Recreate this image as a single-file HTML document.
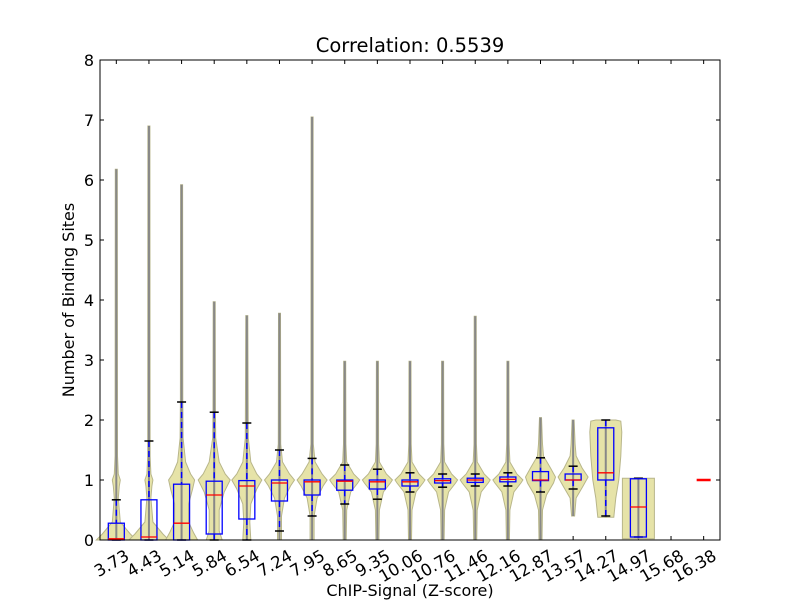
<!DOCTYPE html>
<html><head><meta charset="utf-8"><style>
html,body{margin:0;padding:0;background:#fff;}
svg{display:block;font-family:"DejaVu Sans","Liberation Sans",sans-serif;}
</style></head><body>
<svg id="s" width="800" height="600" xmlns="http://www.w3.org/2000/svg">
<rect width="800" height="600" fill="#fff"/>
<text x="410" y="52" font-size="19.5" text-anchor="middle">Correlation: 0.5539</text>
<text x="410" y="596" font-size="16" text-anchor="middle">ChIP-Signal (Z-score)</text>
<text x="74" y="300" font-size="16" text-anchor="middle" transform="rotate(-90 74 300)">Number of Binding Sites</text>
<g id="g"></g>
<rect x="100" y="60" width="620" height="480" fill="none" stroke="#000" stroke-width="1"/>
</svg>
<script>
var g=document.getElementById('g');var out='';
function X(i){return 100+(i-0.5)*32.63;}
function Y(v){return 540-60*v;}
for(var k=0;k<=8;k++){var y=Y(k);out+='<line x1="100" x2="104" y1="'+y+'" y2="'+y+'" stroke="#000"/><line x1="716" x2="720" y1="'+y+'" y2="'+y+'" stroke="#000"/>';
out+='<text x="94" y="'+(y+6)+'" font-size="16" text-anchor="end">'+k+'</text>';}
var labs=['3.73','4.43','5.14','5.84','6.54','7.24','7.95','8.65','9.35','10.06','10.76','11.46','12.16','12.87','13.57','14.27','14.97','15.68','16.38'];
labs.forEach(function(l,i){var x=X(i+1);out+='<line x1="'+x+'" x2="'+x+'" y1="540" y2="536" stroke="#000"/><line x1="'+x+'" x2="'+x+'" y1="60" y2="64" stroke="#000"/>';
var tx=x+14,ty=559;
out+='<text x="'+tx+'" y="'+ty+'" font-size="16.5" text-anchor="end" transform="rotate(-30 '+tx+' '+ty+')">'+l+'</text>';});
var D=[
[6.18,[[0,20],[0.1,14],[0.3,4],[0.7,2],[0.9,3],[1,4],[1.1,2],[1.4,1.2]],0.67,0.28,0.02,0,0],
[6.9,[[0,20],[0.1,14],[0.3,4],[0.7,2],[0.9,3],[1,4],[1.1,2],[1.4,1.2]],1.65,0.67,0.05,0,0],
[5.92,[[0,16],[0.12,12],[0.3,7],[0.6,7],[0.85,11],[1,13],[1.1,9],[1.3,4],[1.7,1.5],[2.3,1.2]],2.3,0.93,0.28,0,0],
[3.97,[[0,8],[0.15,5],[0.5,5],[0.8,10],[1,16],[1.1,11],[1.3,5],[1.7,1.5],[2.2,1.2]],2.13,0.98,0.75,0.1,0],
[3.74,[[0,4],[0.3,3],[0.6,4],[0.85,10],[1,15],[1.1,10],[1.3,4],[1.7,1.5]],1.95,0.99,0.9,0.35,0],
[3.78,[[0,2],[0.4,2],[0.7,5],[0.9,11],[1,15],[1.1,10],[1.3,3],[1.6,1.2]],1.5,1,0.95,0.65,0.15],
[7.05,[[0,2],[0.4,2],[0.7,5],[0.9,11],[1,15],[1.1,10],[1.3,3],[1.6,1.2]],1.36,1,0.97,0.75,0.4],
[2.98,[[0,1.5],[0.5,2],[0.8,6],[0.95,13],[1,15],[1.1,9],[1.3,2],[1.6,1.2]],1.25,1,0.98,0.83,0.6],
[2.98,[[0,1.5],[0.5,2],[0.8,6],[0.95,13],[1,15],[1.1,9],[1.3,2],[1.6,1.2]],1.18,1,0.97,0.85,0.68],
[2.98,[[0,1.5],[0.5,2],[0.8,6],[0.95,13],[1,15],[1.1,9],[1.3,2],[1.6,1.2]],1.12,1,0.97,0.9,0.8],
[2.98,[[0,1.5],[0.5,2],[0.8,6],[0.95,13],[1,15],[1.1,9],[1.3,2],[1.6,1.2]],1.1,1.02,0.99,0.95,0.88],
[3.73,[[0,1.5],[0.5,2],[0.8,6],[0.95,13],[1,15],[1.1,9],[1.3,2],[1.6,1.2]],1.1,1.03,1,0.96,0.9],
[2.98,[[0,1.5],[0.5,2],[0.8,6],[0.95,13],[1,15],[1.1,9],[1.3,2],[1.6,1.2]],1.12,1.05,1.01,0.97,0.9],
[2.04,[[0,1.5],[0.5,2],[0.75,6],[0.95,13],[1.05,15],[1.2,10],[1.4,3],[1.6,2]],1.37,1.14,1,0.99,0.8],
[2.0,[[0.4,1.5],[0.7,3],[0.9,10],[1.05,15],[1.2,9],[1.4,3],[1.6,2]],1.23,1.1,1,1,0.85],
[2.0,[[0.38,8],[0.7,10],[1.0,13],[1.4,15],[1.8,16],[1.98,15],[2.0,10]],2.0,1.87,1.12,1.0,0.4],
[1.03,[[0.02,16],[1.03,16]],1.03,1.02,0.55,0.05,0.05]
];
D.forEach(function(d,i){var cx=X(i+1),p=d[1];
 var top=d[0];
 var last=p[p.length-1];
 var r=[],l=[];
 p.forEach(function(q){r.push((cx+q[1]).toFixed(1)+','+Y(q[0]).toFixed(1));l.unshift((cx-q[1]).toFixed(1)+','+Y(q[0]).toFixed(1));});
 if(top>last[0]+0.01){r.push((cx+1).toFixed(1)+','+Y(top).toFixed(1));l.unshift((cx-1).toFixed(1)+','+Y(top).toFixed(1));}
 out+='<polygon points="'+r.concat(l).join(' ')+'" fill="#e6e3a8" stroke="#b8b68a" stroke-width="1"/>';
 out+='<line x1="'+cx+'" x2="'+cx+'" y1="'+Y(top)+'" y2="'+Y(p[0][0])+'" stroke="#888" stroke-width="2"/>';
 var wt=d[2],q3=d[3],md=d[4],q1=d[5],wb=d[6];
 out+='<line x1="'+cx+'" x2="'+cx+'" y1="'+Y(wt)+'" y2="'+Y(q3)+'" stroke="#00f" stroke-width="1.5" stroke-dasharray="6,4"/>';
 out+='<line x1="'+cx+'" x2="'+cx+'" y1="'+Y(q1)+'" y2="'+Y(wb)+'" stroke="#00f" stroke-width="1.5" stroke-dasharray="6,4"/>';
 out+='<line x1="'+(cx-4.5)+'" x2="'+(cx+4.5)+'" y1="'+Y(wt)+'" y2="'+Y(wt)+'" stroke="#000" stroke-width="1.5"/>';
 out+='<line x1="'+(cx-4.5)+'" x2="'+(cx+4.5)+'" y1="'+Y(wb)+'" y2="'+Y(wb)+'" stroke="#000" stroke-width="1.5"/>';
 out+='<rect x="'+(cx-8)+'" y="'+Y(q3)+'" width="16" height="'+Math.max(Y(q1)-Y(q3),1)+'" fill="none" stroke="#00f" stroke-width="1.3"/>';
 out+='<line x1="'+(cx-8)+'" x2="'+(cx+8)+'" y1="'+Y(md)+'" y2="'+Y(md)+'" stroke="#f00" stroke-width="1.3"/>';
});
var cx=X(19);out+='<line x1="'+(cx-7)+'" x2="'+(cx+7)+'" y1="'+Y(1)+'" y2="'+Y(1)+'" stroke="#f00" stroke-width="2.5"/>';
g.innerHTML=out;
</script>
</body></html>
